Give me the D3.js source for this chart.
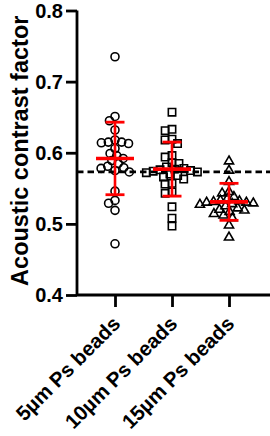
<!DOCTYPE html>
<html>
<head>
<meta charset="utf-8">
<script src="https://d3js.org/d3.v7.min.js"></script>
<style>
    html, body { margin: 0; padding: 0; background: #fff; }
    svg { display: block; }
</style>
</head>
<body>
<div id="root"></div>
<script>
// categories
const groups = ['5µm Ps beads', '10µm Ps beads', '15µm Ps beads'];
const shapes = ['circle', 'square', 'triangle'];

// values per group
const beads5 = [0.735, 0.651, 0.645, 0.632, 0.618, 0.615, 0.615, 0.614, 0.613, 0.606, 0.599, 0.596, 0.592,
    0.589, 0.585, 0.581, 0.579, 0.578, 0.575, 0.573, 0.546, 0.533, 0.529, 0.519, 0.472];
const beads10 = [0.657, 0.633, 0.631, 0.619, 0.618, 0.613, 0.596, 0.594, 0.586, 0.585, 0.580, 0.578, 0.577,
    0.576, 0.575, 0.574, 0.573, 0.572, 0.570, 0.568, 0.566, 0.563, 0.557, 0.556, 0.545, 0.543, 0.524, 0.508, 0.497];
const beads15 = [0.588, 0.575, 0.559, 0.545, 0.543, 0.538, 0.535, 0.533, 0.532, 0.531, 0.530, 0.530, 0.529,
    0.528, 0.527, 0.525, 0.522, 0.520, 0.519, 0.517, 0.514, 0.512, 0.508, 0.498, 0.481];
const series = [beads5, beads10, beads15];

// mean +/- SD
const means = [0.592, 0.577, 0.531];
const sds = [0.051, 0.038, 0.026];

const refLine = 0.573;
const yTicks = [0.4, 0.5, 0.6, 0.7, 0.8];

const width = 270, height = 436;
const font = "'Liberation Sans', Arial, sans-serif";

const svg = d3.select('#root').append('svg')
    .attr('width', width)
    .attr('height', height);

const y = d3.scaleLinear().domain([0.4, 0.8]).range([295, 10.5]);
const x = d3.scalePoint().domain(groups).range([77, 267]).padding(2 / 3);

// y axis
const yAxis = svg.append('g')
    .attr('transform', 'translate(77,0)')
    .call(d3.axisLeft(y).tickValues(yTicks).tickFormat(d3.format('.1f')).tickSize(11).tickPadding(3));
yAxis.select('.domain').attr('stroke-width', 2.8).attr('d', `M0,${y(0.8)}V${y(0.4)}`);
yAxis.selectAll('line').attr('stroke-width', 2.8);
yAxis.selectAll('text')
    .attr('font-family', font).attr('font-weight', 'bold').attr('font-size', 20).attr('fill', '#000')
    .attr('dy', '0.34em');

// x axis, labels turned 45 degrees and ending near their tick
const xAxis = svg.append('g')
    .attr('transform', 'translate(0,295)')
    .call(d3.axisBottom(x).tickSize(12).tickSizeOuter(0));
xAxis.select('.domain').attr('stroke-width', 2.8).attr('d', `M77,0H${width}`);
xAxis.selectAll('line').attr('stroke-width', 2.8);
xAxis.selectAll('text')
    .attr('font-family', font).attr('font-weight', 'bold').attr('font-size', 20.5).attr('fill', '#000')
    .attr('text-anchor', 'end')
    .attr('x', 0).attr('y', 0).attr('dy', 0)
    .attr('transform', 'translate(6,30) rotate(-45)');

// y label
svg.append('text')
    .attr('transform', `translate(28,${(y(0.8) + y(0.4)) / 2 - 2}) rotate(-90)`)
    .attr('text-anchor', 'middle')
    .attr('font-family', font).attr('font-weight', 'bold').attr('font-size', 23.5)
    .text('Acoustic contrast factor');

// dashed reference line
svg.append('line')
    .attr('x1', 77).attr('x2', width)
    .attr('y1', y(refLine)).attr('y2', y(refLine))
    .attr('stroke', '#000').attr('stroke-width', 2.8)
    .attr('stroke-dasharray', '6.5,4');

// simple beeswarm: put each point as close to the centre as it can go
function dodge(values, diam) {
    const placed = [];
    const order = values.map((v, i) => i).sort((a, b) => d3.descending(values[a], values[b]));
    const offs = new Array(values.length);
    order.forEach(i => {
        const py = y(values[i]);
        const blocks = [];
        placed.forEach(p => {
            const dy = Math.abs(p.y - py);
            if (dy < diam) {
                const w = Math.sqrt(diam * diam - dy * dy);
                blocks.push([p.x - w, p.x + w]);
            }
        });
        const cands = [0];
        blocks.forEach(b => { cands.push(b[0], b[1]); });
        cands.sort((a, b) => Math.abs(a) - Math.abs(b) || a - b);
        const free = cands.find(c => blocks.every(b => c <= b[0] + 1e-6 || c >= b[1] - 1e-6));
        offs[i] = free;
        placed.push({ x: free, y: py });
    });
    return offs;
}

const symbols = {
    square: d3.symbol().type(d3.symbolSquare).size(54),
    triangle: d3.symbol().type(d3.symbolTriangle).size(36)
};

series.forEach((vals, gi) => {
    const cx = x(groups[gi]);
    const offs = dodge(vals, 7);
    const g = svg.append('g').attr('fill', 'none').attr('stroke', '#000').attr('stroke-width', 1.6);
    vals.forEach((v, i) => {
        if (shapes[gi] === 'circle') {
            g.append('circle').attr('cx', cx + offs[i]).attr('cy', y(v)).attr('r', 4);
        } else {
            g.append('path')
                .attr('transform', `translate(${cx + offs[i]},${y(v)})`)
                .attr('d', symbols[shapes[gi]]());
        }
    });
});

// mean and SD in red
groups.forEach((gname, gi) => {
    const cx = x(gname);
    const m = means[gi], s = sds[gi];
    const g = svg.append('g').attr('stroke', '#ff0000');
    g.append('line').attr('x1', cx).attr('x2', cx).attr('y1', y(m + s)).attr('y2', y(m - s)).attr('stroke-width', 2.6);
    g.append('line').attr('x1', cx - 9.5).attr('x2', cx + 9.5).attr('y1', y(m + s)).attr('y2', y(m + s)).attr('stroke-width', 2.8);
    g.append('line').attr('x1', cx - 9.5).attr('x2', cx + 9.5).attr('y1', y(m - s)).attr('y2', y(m - s)).attr('stroke-width', 2.8);
    g.append('line').attr('x1', cx - 19).attr('x2', cx + 19).attr('y1', y(m)).attr('y2', y(m)).attr('stroke-width', 3.6);
});
</script>
</body>
</html>
